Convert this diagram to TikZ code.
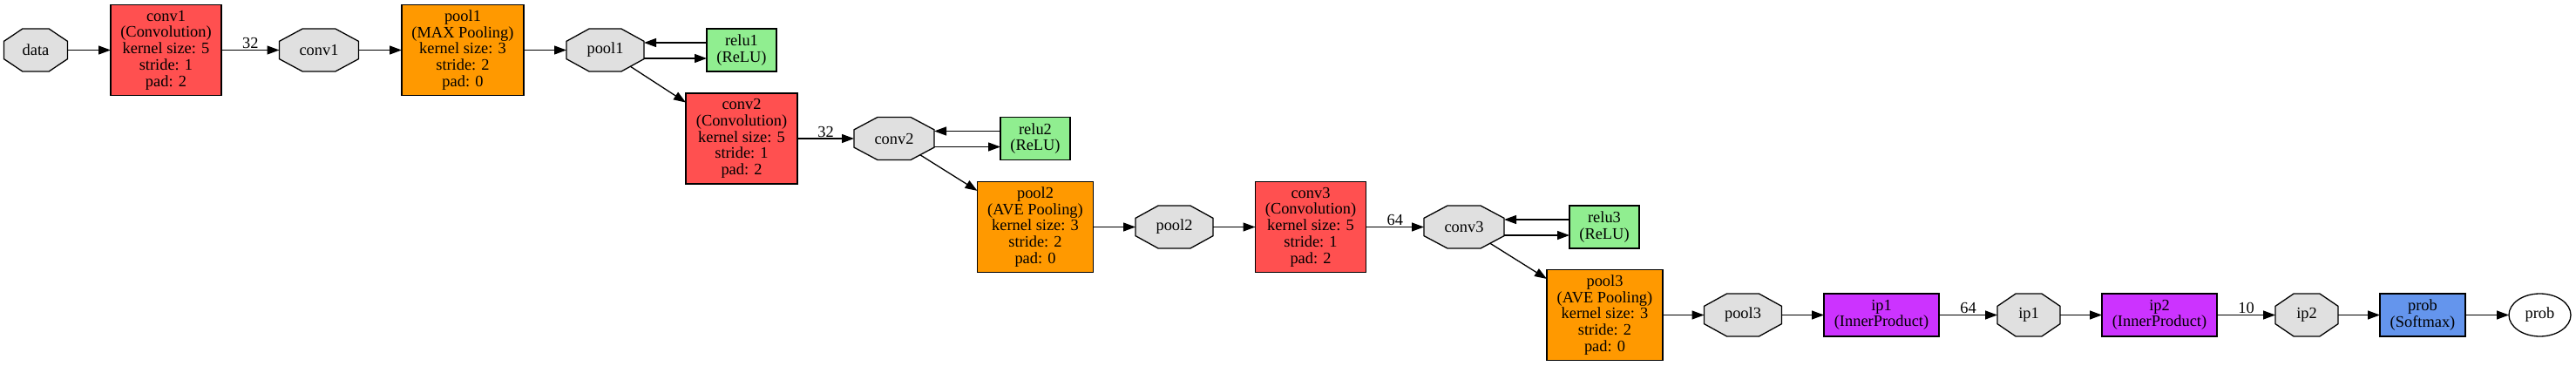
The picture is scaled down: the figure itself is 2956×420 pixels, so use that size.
\documentclass[tikz,border=0pt]{standalone}
\usepackage{fontspec}
\setmainfont{Liberation Serif}
\usetikzlibrary{arrows.meta,shapes.geometric,calc,backgrounds}
\definecolor{convc}{HTML}{FF5050}
\definecolor{poolc}{HTML}{FF9900}
\definecolor{reluc}{HTML}{90EE90}
\definecolor{ipc}{HTML}{CC33FF}
\definecolor{smc}{HTML}{6495ED}
\definecolor{blobc}{HTML}{E0E0E0}
\newcommand{\drawocta}[1]{%
 \filldraw[fill=blobc, draw=black, line width=1.3pt]
 ($(#1.north west)!0.293!(#1.north east)$) --
 ($(#1.north west)!0.707!(#1.north east)$) --
 ($(#1.north east)!0.293!(#1.south east)$) --
 ($(#1.north east)!0.707!(#1.south east)$) --
 ($(#1.south east)!0.293!(#1.south west)$) --
 ($(#1.south east)!0.707!(#1.south west)$) --
 ($(#1.south west)!0.293!(#1.north west)$) --
 ($(#1.south west)!0.707!(#1.north west)$) -- cycle;}
\begin{document}
\begin{tikzpicture}[x=1pt,y=-1pt,
  every node/.style={font=\fontsize{18.4}{18.7}\selectfont, align=center, inner sep=0pt, outer sep=0pt},
  layerbox/.style={rectangle, draw=black, line width=1.3pt},
  convbox/.style={layerbox, fill=convc, minimum width=127pt, minimum height=104pt},
  poolbox/.style={layerbox, fill=poolc, minimum height=104pt},
  relubox/.style={layerbox, fill=reluc, minimum width=80pt, minimum height=49pt},
  ipbox/.style={layerbox, fill=ipc, minimum width=132pt, minimum height=49pt},
  smbox/.style={layerbox, fill=smc, minimum width=98pt, minimum height=49pt},
  blob/.style={rectangle, minimum height=49pt},
  outblob/.style={ellipse, draw=black, line width=1.3pt, fill=white, minimum width=71pt, minimum height=49pt},
  arr/.style={-{Triangle[length=14pt,width=10pt]}, line width=1.3pt, draw=black},
  lab/.style={above, inner sep=1.5pt}
]
\useasboundingbox (0,0) rectangle (2956,420);
% row A
\node[blob, minimum width=73pt] (data) at (41,57.5) {data};
\node[convbox] (conv1) at (190.5,57.5) {conv1\\(Convolution)\\kernel size: 5\\stride: 1\\pad: 2};
\node[blob, minimum width=91pt] (conv1o) at (366,57.5) {conv1};
\node[poolbox, minimum width=140pt] (pool1) at (531,57.5) {pool1\\(MAX Pooling)\\kernel size: 3\\stride: 2\\pad: 0};
\node[blob, minimum width=89pt] (pool1o) at (694.5,57.5) {pool1};
\node[relubox] (relu1) at (851,57.5) {relu1\\(ReLU)};
% row B
\node[convbox, minimum width=128pt] (conv2) at (851,159) {conv2\\(Convolution)\\kernel size: 5\\stride: 1\\pad: 2};
\node[blob, minimum width=92pt] (conv2o) at (1026,159) {conv2};
\node[relubox] (relu2) at (1188,159) {relu2\\(ReLU)};
% row C
\node[poolbox, minimum width=133pt] (pool2) at (1188,260.5) {pool2\\(AVE Pooling)\\kernel size: 3\\stride: 2\\pad: 0};
\node[blob, minimum width=89pt] (pool2o) at (1347.5,260.5) {pool2};
\node[convbox] (conv3) at (1504,260.5) {conv3\\(Convolution)\\kernel size: 5\\stride: 1\\pad: 2};
\node[blob, minimum width=92pt] (conv3o) at (1680,260.5) {conv3};
\node[relubox] (relu3) at (1841,260.5) {relu3\\(ReLU)};
% row D
\node[poolbox, minimum width=133pt] (pool3) at (1841.5,361.5) {pool3\\(AVE Pooling)\\kernel size: 3\\stride: 2\\pad: 0};
\node[blob, minimum width=89pt] (pool3o) at (2000,361.5) {pool3};
\node[ipbox] (ip1) at (2159,361.5) {ip1\\(InnerProduct)};
\node[blob, minimum width=72pt] (ip1o) at (2328,361.5) {ip1};
\node[ipbox] (ip2) at (2478,361.5) {ip2\\(InnerProduct)};
\node[blob, minimum width=72pt] (ip2o) at (2647,361.5) {ip2};
\node[smbox] (prob) at (2780,361.5) {prob\\(Softmax)};
\node[outblob] (probo) at (2914.5,361.5) {prob};
% octagons behind
\begin{pgfonlayer}{background}
\fill[white] (0,0) rectangle (2956,420);
\drawocta{data}
\drawocta{conv1o}
\drawocta{pool1o}
\drawocta{conv2o}
\drawocta{pool2o}
\drawocta{conv3o}
\drawocta{pool3o}
\drawocta{ip1o}
\drawocta{ip2o}
\end{pgfonlayer}
% edges
\draw[arr] (data) -- (conv1);
\draw[arr] (conv1) -- node[lab] {32} (conv1o);
\draw[arr] (conv1o) -- (pool1);
\draw[arr] (pool1) -- (pool1o);
\draw[arr] ([yshift=8.5pt]relu1.west) -- ([yshift=8.5pt]pool1o.east);
\draw[arr] ([yshift=-9.5pt]pool1o.east) -- ([yshift=-9.5pt]relu1.west);
\draw[arr, shorten <=34.4pt] (pool1o.center) -- (conv2);
\draw[arr] (conv2) -- node[lab] {32} (conv2o);
\draw[arr] ([yshift=8.5pt]relu2.west) -- ([yshift=8.5pt]conv2o.east);
\draw[arr] ([yshift=-9.5pt]conv2o.east) -- ([yshift=-9.5pt]relu2.west);
\draw[arr, shorten <=35.3pt] (conv2o.center) -- (pool2);
\draw[arr] (pool2) -- (pool2o);
\draw[arr] (pool2o) -- (conv3);
\draw[arr] (conv3) -- node[lab] {64} (conv3o);
\draw[arr] ([yshift=8.5pt]relu3.west) -- ([yshift=8.5pt]conv3o.east);
\draw[arr] ([yshift=-9.5pt]conv3o.east) -- ([yshift=-9.5pt]relu3.west);
\draw[arr, shorten <=35.3pt] (conv3o.center) -- (pool3);
\draw[arr] (pool3) -- (pool3o);
\draw[arr] (pool3o) -- (ip1);
\draw[arr] (ip1) -- node[lab] {64} (ip1o);
\draw[arr] (ip1o) -- (ip2);
\draw[arr] (ip2) -- node[lab] {10} (ip2o);
\draw[arr] (ip2o) -- (prob);
\draw[arr] (prob) -- (probo);
\end{tikzpicture}
\end{document}
